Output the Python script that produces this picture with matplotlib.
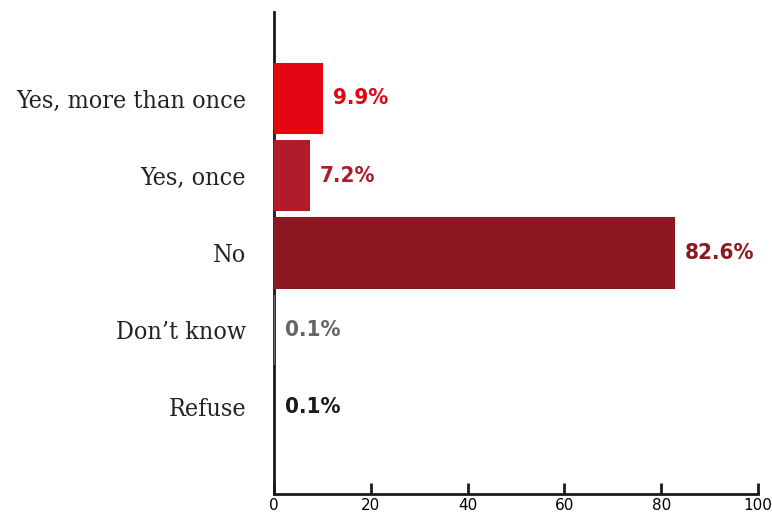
import numpy as np
import matplotlib.pyplot as plt

# survey answers, top to bottom
categories = ["Yes, more than once", "Yes, once", "No", "Don\u2019t know", "Refuse"]
values = [9.9, 7.2, 82.6, 0.1, 0.1]
colors = ["#e30613", "#b01c2a", "#8c1822", "#666666", "#1a1a1a"]
xticks = [0, 20, 40, 60, 80, 100]

fig = plt.figure(figsize=(7.72, 5.2), dpi=100)
ax = fig.add_axes([0.3549, 0.05, 0.627, 0.927])

ypos = np.arange(len(categories))
# thin edge in the bar colour keeps the 0.1% bars visible next to the axis
ax.barh(ypos, values, height=0.9, color=colors, edgecolor=colors, linewidth=1.5, zorder=3)

for y, v, c in zip(ypos, values, colors):
    ax.text(v + 2.2, y, f"{v}%", va="center", ha="left", color=c,
            fontsize=16, fontweight="bold", family="DejaVu Sans", fontstretch="condensed")

ax.set_xlim(0, 100)
ax.set_ylim(len(categories) - 1 + 1.12, -1.12)
ax.set_xticks(xticks)
ax.set_xticklabels([str(t) for t in xticks], fontsize=11, family="DejaVu Sans")
ax.set_yticks(ypos)
ax.set_yticklabels(categories, fontsize=18, family="DejaVu Serif",
                   fontstretch="condensed", color="#222222", va="center_baseline")
ax.tick_params(axis="y", length=0, pad=20)
ax.tick_params(axis="x", direction="in", length=8, width=2, color="#1a1a1a", pad=3)

for side in ["top", "right"]:
    ax.spines[side].set_visible(False)
for side in ["left", "bottom"]:
    ax.spines[side].set_linewidth(2)
    ax.spines[side].set_color("#1a1a1a")

fig.savefig("out.png", dpi=100)
